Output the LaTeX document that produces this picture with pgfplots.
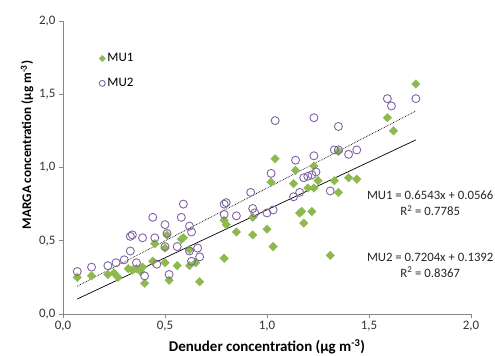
\documentclass[border=0pt]{standalone}
\usepackage{pgfplots}
\pgfplotsset{compat=1.18}
\usepackage{fontspec}
\setmainfont{Carlito}
\definecolor{mugreen}{HTML}{8DB94F}
\definecolor{mupurple}{HTML}{8064A2}
\definecolor{axgray}{HTML}{868686}
\begin{document}
\begin{tikzpicture}
\path[use as bounding box] (-63bp,-42bp) rectangle (432bp,314bp);
\begin{axis}[
  at={(0,0)}, anchor=south west,
  scale only axis, width=408bp, height=293bp,
  xmin=0, xmax=2, ymin=0, ymax=2,
  axis x line=bottom, axis y line=left,
  axis line style={axgray, -, line width=0.8pt},
  xtick={0,0.5,1,1.5,2}, ytick={0,0.5,1,1.5,2},
  tick align=outside, major tick length=4bp,
  tick style={axgray, line width=0.8pt},
  xticklabel style={/pgf/number format/.cd, fixed, fixed zerofill, precision=1, use comma},
  yticklabel style={/pgf/number format/.cd, fixed, fixed zerofill, precision=1, use comma},
  /pgf/number format/assume math mode=true,
  tick label style={font=\fontsize{13}{15}\selectfont, text=black!80},
  xlabel={\textbf{Denuder concentration (µg m\textsuperscript{-3})}},
  ylabel={\textbf{MARGA concentration (µg m\textsuperscript{-3})}},
  xlabel style={font=\fontsize{15}{17}\selectfont, at={(axis description cs:0.5,-0.113)}, anchor=center},
  ylabel style={font=\fontsize{13.2}{15}\selectfont, at={(axis description cs:-0.088,0.577)}, anchor=center, rotate=0},
  clip=false,
  legend style={draw=none, fill=none, at={(axis description cs:0.088,0.903)}, anchor=north west,
    font=\fontsize{13}{15}\selectfont, row sep=11bp, inner xsep=0pt},
  legend image post style={scale=0.75},
  legend cell align=left,
]
\addplot[only marks, mark=square*, mark size=3bp, mark options={rotate=45, draw=mugreen, fill=mugreen}] coordinates {
(0.07,0.25)(0.14,0.26)(0.22,0.27)(0.25,0.28)(0.27,0.25)(0.32,0.31)(0.34,0.30)(0.36,0.31)
(0.38,0.29)(0.39,0.32)(0.40,0.21)(0.44,0.36)(0.45,0.48)(0.50,0.35)(0.51,0.54)(0.50,0.45)
(0.52,0.23)(0.56,0.33)(0.58,0.51)(0.59,0.52)(0.62,0.44)(0.62,0.33)(0.65,0.35)(0.67,0.22)
(0.79,0.38)(0.79,0.64)(0.80,0.61)(0.85,0.56)(0.93,0.54)(0.93,0.66)(1.00,0.58)(1.03,0.46)
(1.02,0.90)(1.04,1.06)(1.13,0.89)(1.14,0.98)(1.16,0.69)(1.17,0.70)(1.18,0.62)(1.20,0.86)
(1.22,0.70)(1.23,0.86)(1.23,1.01)(1.25,0.91)(1.31,0.40)(1.33,0.91)(1.35,0.83)(1.35,1.11)
(1.40,0.93)(1.44,0.92)(1.59,1.34)(1.62,1.25)(1.73,1.57)
};
\addlegendentry{MU1}
\addplot[only marks, mark=o, mark size=4bp, mark options={draw=mupurple, line width=0.9pt}] coordinates {
(0.07,0.29)(0.14,0.32)(0.22,0.33)(0.26,0.35)(0.30,0.37)(0.33,0.43)(0.33,0.53)(0.34,0.54)
(0.36,0.35)(0.39,0.52)(0.40,0.26)(0.44,0.66)(0.45,0.52)(0.46,0.34)(0.50,0.61)(0.51,0.55)
(0.50,0.46)(0.52,0.27)(0.56,0.46)(0.59,0.75)(0.58,0.66)(0.62,0.60)(0.63,0.56)(0.62,0.43)
(0.63,0.36)(0.66,0.45)(0.67,0.39)(0.79,0.75)(0.80,0.76)(0.79,0.68)(0.85,0.67)(0.92,0.83)
(0.93,0.72)(0.94,0.69)(1.00,0.69)(1.03,0.71)(1.02,0.96)(1.04,1.32)(1.13,0.80)(1.14,1.05)
(1.16,0.83)(1.18,0.93)(1.20,0.94)(1.22,0.95)(1.24,0.97)(1.23,1.08)(1.23,1.34)(1.31,0.84)
(1.33,1.12)(1.35,1.12)(1.35,1.28)(1.40,1.09)(1.44,1.12)(1.59,1.47)(1.61,1.42)(1.73,1.47)
};
\addlegendentry{MU2}
\addplot[black, line width=0.7pt, forget plot] coordinates {(0.07,0.1024)(1.73,1.1885)};
\addplot[black, line width=0.7pt, densely dotted, forget plot] coordinates {(0.07,0.1896)(1.73,1.3855)};
\node[align=center, font=\fontsize{12.8}{16}\selectfont, text=black!85] at (axis cs:1.80,0.755)
  {MU1 = 0.6543x + 0.0566\\R\textsuperscript{2} = 0.7785};
\node[align=center, font=\fontsize{12.8}{16}\selectfont, text=black!85] at (axis cs:1.80,0.334)
  {MU2 = 0.7204x + 0.1392\\R\textsuperscript{2} = 0.8367};
\end{axis}
\end{tikzpicture}
\end{document}
